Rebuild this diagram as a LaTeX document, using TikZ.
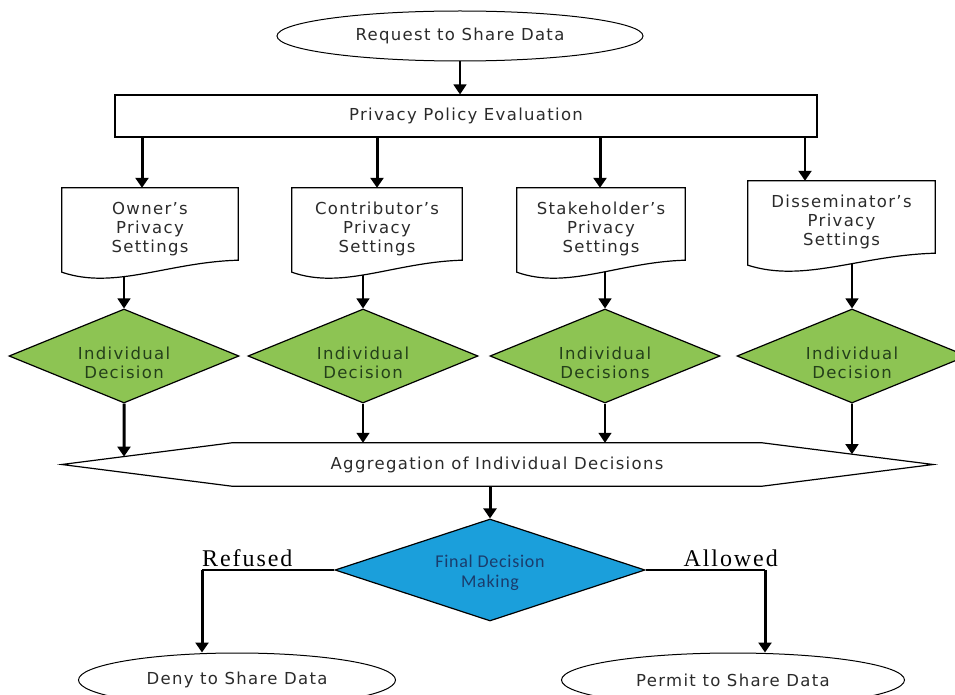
\documentclass[tikz,border=0pt]{standalone}
\usepackage{fontspec}
\usetikzlibrary{shapes.geometric,arrows.meta,calc}
\newfontfamily\boxfont[LetterSpace=8]{DejaVu Sans}
\newfontfamily\capfont[LetterSpace=4]{Carlito}
\newfontfamily\branchfont[LetterSpace=8]{Liberation Serif}
\definecolor{leaf}{HTML}{8DC453}
\definecolor{sky}{HTML}{1B9FDB}
\definecolor{ink}{HTML}{2B2B2B}
\definecolor{leafink}{HTML}{24401A}
\definecolor{skyink}{HTML}{1A3C6C}
\pgfdeclarelayer{paper}
\pgfdeclarelayer{links}
\pgfdeclarelayer{frames}
\pgfsetlayers{paper,links,frames,main}

\tikzset{
  outline/.style={draw=black, line width=1.2pt},
  words/.style={font=\boxfont\fontsize{16.5}{19}\selectfont, text=ink, align=center, inner sep=0pt},
  terminal/.style={ellipse, draw=black, line width=1pt, fill=white, inner sep=0pt},
  process/.style={rectangle, outline, fill=white, inner sep=0pt},
  docbox/.style={rectangle, inner sep=0pt},
  choice/.style={diamond, outline, fill=leaf, inner sep=0pt, minimum width=230pt, minimum height=94pt},
  choicetext/.style={font=\boxfont\fontsize{16.5}{19}\selectfont, text=leafink, align=center, inner sep=0pt},
  finalchoice/.style={diamond, outline, fill=sky, inner sep=0pt, minimum width=310pt, minimum height=102pt},
  finaltext/.style={font=\capfont\fontsize{18}{20}\selectfont, text=skyink, align=center, inner sep=0pt},
  tip/.style={-{Triangle[width=13pt,length=10pt]}},
  link/.style={tip, line width=1.6pt},
  heavylink/.style={tip, line width=3pt},
  branch/.style={font=\branchfont\fontsize{24}{26}\selectfont, inner sep=0pt},
}

% document symbol: flat top, wavy bottom, drawn around an invisible box node
\newcommand\docframe[1]{%
  \begin{pgfonlayer}{frames}
  \draw[outline, fill=white] (#1.north west) -- (#1.north east) -- (#1.south east)
    .. controls ($(#1.south west)!0.6!(#1.south east)+(0,2)$)
           and ($(#1.south west)!0.3!(#1.south east)+(0,30)$)
    .. ($(#1.south west)+(0,12)$) -- cycle;
  \end{pgfonlayer}}

\begin{document}
\begin{tikzpicture}[x=1pt, y=-1pt]
\begin{pgfonlayer}{paper}
  \fill[white] (0,0) rectangle (955,695);
\end{pgfonlayer}
\useasboundingbox (0,0) rectangle (955,695);

% start and policy evaluation
\node[terminal, minimum width=366pt, minimum height=50pt, words] (req) at (460,36) {Request to Share Data};
\node[process, minimum width=702pt, minimum height=42pt, words] (ppe) at (466,116) {Privacy Policy Evaluation};

% privacy settings documents
\node[docbox, minimum width=176pt, minimum height=72pt] (own) at (150,224) {};
\node[docbox, minimum width=170pt, minimum height=72pt] (con) at (377,224) {};
\node[docbox, minimum width=168pt, minimum height=72pt] (stk) at (601,224) {};
\node[docbox, minimum width=187pt, minimum height=72pt] (dis) at (841.5,217) {};
\docframe{own}\docframe{con}\docframe{stk}\docframe{dis}
\node[words] (ownT) at (150,229) {Owner’s\\Privacy\\Settings};
\node[words] (conT) at (377,229) {Contributor’s\\Privacy\\Settings};
\node[words] (stkT) at (601,229) {Stakeholder’s\\Privacy\\Settings};
\node[words] (disT) at (841.5,222) {Disseminator’s\\Privacy\\Settings};

% individual decisions
\node[choice] (d1) at (124,356) {};
\node[choice] (d2) at (363,356) {};
\node[choice] (d3) at (605,356) {};
\node[choice] (d4) at (852,356) {};
\node[choicetext] (d1T) at (124,363) {Individual\\Decision};
\node[choicetext] (d2T) at (363,363) {Individual\\Decision};
\node[choicetext] (d3T) at (605,363) {Individual\\Decisions};
\node[choicetext] (d4T) at (852,363) {Individual\\Decision};

% aggregation hexagon
\node[docbox, minimum width=530pt, minimum height=43pt, words] (agg) at (497,464.5) {Aggregation of Individual Decisions};
\coordinate (hexL) at ($(agg.west)+(-170,0)$);
\coordinate (hexR) at ($(agg.east)+(171,0)$);
\coordinate (hexTL) at (agg.north west);
\coordinate (hexTR) at (agg.north east);
\draw[outline] (agg.north west) -- (agg.north east) -- (hexR) -- (agg.south east)
  -- (agg.south west) -- (hexL) -- cycle;

% final decision and outcomes
\node[finalchoice] (fin) at (490,570) {};
\node[finaltext] (finT) at (490,573) {Final Decision\\Making};
\node[terminal, minimum width=317pt, minimum height=54pt, words] (deny) at (237,680) {Deny to Share Data};
\node[terminal, minimum width=343pt, minimum height=54pt, words] (permit) at (733,680) {Permit to Share Data};
\coordinate (rc) at (fin.west -| 202,0);
\coordinate (ac) at (fin.east -| 765,0);
\node[branch, anchor=south west] (refused) at ($(rc)+(0,-3)$) {Refused};
\node[branch, anchor=south east] (allowed) at ($(ac)+(13,-3)$) {Allowed};

\begin{pgfonlayer}{links}
  \draw[link] (req.south) -- (ppe.north -| req.south);
  \draw[heavylink] (ppe.south -| 142,0) -- (own.north -| 142,0);
  \draw[heavylink] (ppe.south -| con.north) -- (con.north);
  \draw[heavylink] (ppe.south -| 600,0) -- (stk.north -| 600,0);
  \draw[tip, line width=2.2pt] (ppe.south -| 805,0) -- (dis.north -| 805,0);
  % these start inside the document bodies; the frame fill hides the hidden part
  \draw[link] (d1.north |- own.center) -- (d1.north);
  \draw[link] (d2.north |- con.center) -- (d2.north);
  \draw[link] (d3.north |- stk.center) -- (d3.north);
  \draw[link] (d4.north |- dis.center) -- (d4.north);
  \draw[heavylink] (d1.south) -- (intersection of hexL--hexTL and d1.south--d1.north);
  \draw[link] (d2.south) -- (d2.south |- agg.north);
  \draw[link] (d3.south) -- (d3.south |- agg.north);
  \draw[link] (d4.south) -- (intersection of hexTR--hexR and d4.south--d4.north);
  \draw[heavylink] (agg.south -| fin.north) -- (fin.north);
  \draw[line width=1.2pt] (fin.west) -- (rc);
  \draw[heavylink] (rc) -- (deny.north -| rc);
  \draw[line width=1.2pt] (fin.east) -- (ac);
  \draw[heavylink] (ac) -- (permit.north -| ac);
\end{pgfonlayer}
\end{tikzpicture}
\end{document}
